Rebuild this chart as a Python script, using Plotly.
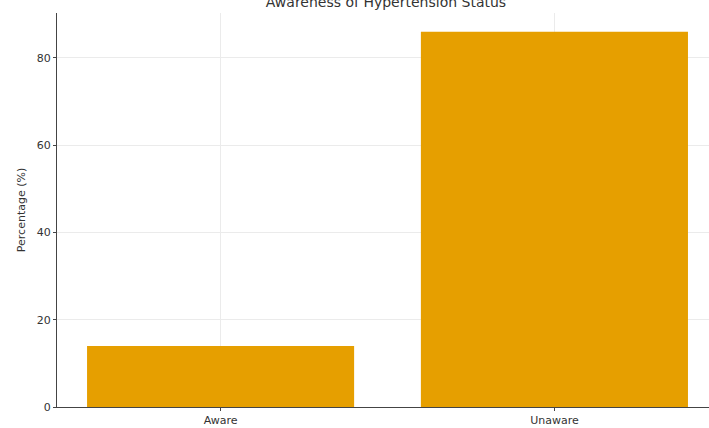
import plotly.graph_objects as go

# Share of respondents aware / unaware of their hypertension status
categories = ["Aware", "Unaware"]
percentages = [14, 86]
y_ticks = [0, 20, 40, 60, 80]

BAR_COLOR = "#E69F00"
TEXT_COLOR = "#333333"
AXIS_COLOR = "#444444"
GRID_COLOR = "#EBEBEB"
FONT = "DejaVu Sans"

fig = go.Figure(
    go.Bar(
        x=[0, 1],
        y=percentages,
        width=0.8,
        marker=dict(color=BAR_COLOR, line=dict(width=0)),
        hovertemplate="%{customdata}: %{y}%<extra></extra>",
        customdata=categories,
    )
)

fig.update_layout(
    width=709,
    height=428,
    margin=dict(l=57, r=0, t=13, b=21),
    paper_bgcolor="white",
    plot_bgcolor="white",
    showlegend=False,
    font=dict(family=FONT, size=11, color=TEXT_COLOR),
    title=dict(
        text="Awareness of Hypertension Status",
        x=386 / 709,
        xref="container",
        xanchor="center",
        y=1 - 2 / 428,
        yref="container",
        yanchor="middle",
        font=dict(family=FONT, size=14, color=TEXT_COLOR),
    ),
)

fig.update_xaxes(
    range=[-0.49, 1.463],
    tickvals=[0, 1],
    ticktext=categories,
    showgrid=True,
    gridcolor=GRID_COLOR,
    gridwidth=1,
    showline=True,
    linecolor=AXIS_COLOR,
    linewidth=1,
    ticks="outside",
    ticklen=3,
    tickcolor=AXIS_COLOR,
    tickfont=dict(size=11, color=TEXT_COLOR),
    zeroline=False,
)

fig.update_yaxes(
    range=[0, 86 * 1.05],
    tickvals=y_ticks,
    showgrid=True,
    gridcolor=GRID_COLOR,
    gridwidth=1,
    showline=True,
    linecolor=AXIS_COLOR,
    linewidth=1,
    ticks="outside",
    ticklen=3,
    tickcolor=AXIS_COLOR,
    tickfont=dict(size=11, color=TEXT_COLOR),
    zeroline=False,
    title=dict(text="Percentage (%)", font=dict(size=11, color=TEXT_COLOR), standoff=8),
)

fig.write_html("out.html")
